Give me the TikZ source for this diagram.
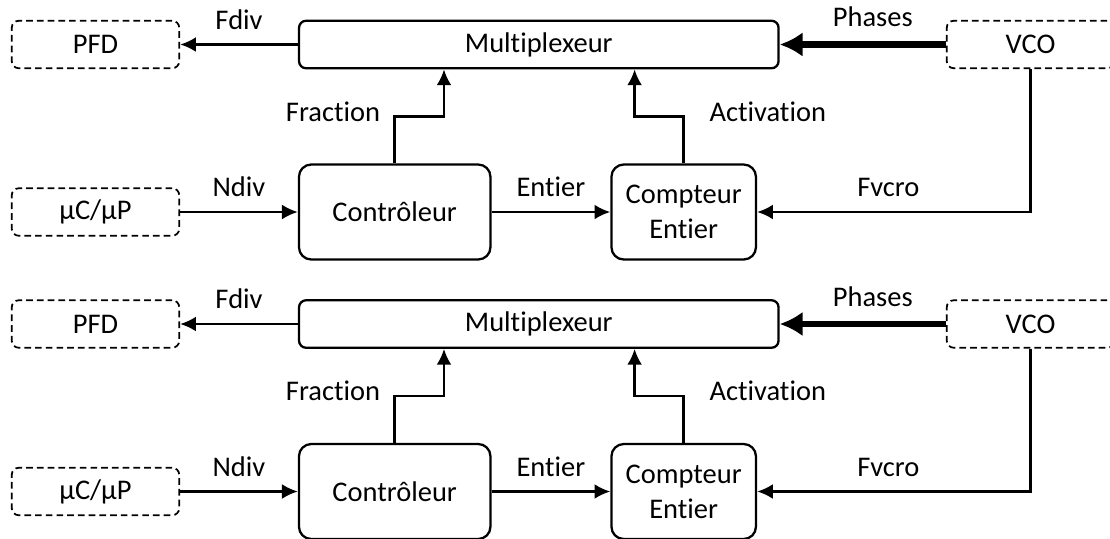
\documentclass[tikz,border=0pt]{standalone}
\usepackage{fontspec}
\setmainfont{Carlito}[Ligatures=NoCommon]
\usetikzlibrary{arrows.meta}

\begin{document}
\begin{tikzpicture}[x=1cm,y=1cm,>={Latex[length=9pt,width=8.5pt]},
font=\fontsize{16.2}{19.8}\selectfont,
blk/.style={draw,line width=1.3pt,rounded corners=7pt,align=center,minimum height=1.9cm},
ext/.style={draw,dash pattern=on 3.8pt off 2.3pt,line width=1pt,rounded corners=4pt,minimum width=3.35cm,minimum height=.95cm},
mux/.style={draw,line width=1.3pt,rounded corners=4pt,minimum width=9.59cm,minimum height=.95cm},
arr/.style={->,line width=1.4pt},
bus/.style={-{Latex[length=13pt,width=14pt]},line width=3.8pt},
lbl/.style={inner sep=2pt}]
\useasboundingbox (0,0) rectangle (22.2,-10.76);
% upper diagram
\node[ext] (p1) at (1.91,-.89) {PFD};
\node[mux] (m1) at (10.776,-.89) {Multiplexeur};
\node[ext] (v1) at (20.61,-.89) {VCO};
\node[ext] (n1) at (1.91,-4.24) {µC/µP};
\node[blk,minimum width=3.83cm] (c1) at (7.894,-4.24) {Contrôleur};
\node[blk,minimum width=2.89cm] (k1) at (13.674,-4.24) {Compteur\\Entier};
\coordinate (f1) at (8.88,-2.334);\coordinate (a1) at (12.692,-2.334);
\draw[arr] (m1.west)--node[lbl,above=6pt]{Fdiv}(p1.east);
\draw[bus] (v1.west)--node[lbl,above=6pt,pos=.44]{Phases}(m1.east);
\draw[arr] (n1.east)--node[lbl,above=6pt]{Ndiv}(c1.west);
\draw[arr] (c1.east)--node[lbl,above=6pt]{Entier}(k1.west);
\draw[arr] (v1.south)|-node[lbl,above=6pt,pos=.76]{Fvcro}(k1.east);
\draw[arr] (c1.north)--(c1.north|-f1)node[lbl,left=5.6pt,yshift=3pt]{Fraction}--(f1)--(f1|-m1.south);
\draw[arr] (k1.north)--(k1.north|-a1)node[lbl,right=12pt,yshift=3pt]{Activation}--(a1)--(a1|-m1.south);
% lower diagram
\node[ext] (p2) at (1.91,-6.48) {PFD};
\node[mux] (m2) at (10.776,-6.48) {Multiplexeur};
\node[ext] (v2) at (20.61,-6.48) {VCO};
\node[ext] (n2) at (1.91,-9.83) {µC/µP};
\node[blk,minimum width=3.83cm] (c2) at (7.894,-9.83) {Contrôleur};
\node[blk,minimum width=2.89cm] (k2) at (13.674,-9.83) {Compteur\\Entier};
\coordinate (f2) at (8.88,-7.924);\coordinate (a2) at (12.692,-7.924);
\draw[arr] (m2.west)--node[lbl,above=6pt]{Fdiv}(p2.east);
\draw[bus] (v2.west)--node[lbl,above=6pt,pos=.44]{Phases}(m2.east);
\draw[arr] (n2.east)--node[lbl,above=6pt]{Ndiv}(c2.west);
\draw[arr] (c2.east)--node[lbl,above=6pt]{Entier}(k2.west);
\draw[arr] (v2.south)|-node[lbl,above=6pt,pos=.76]{Fvcro}(k2.east);
\draw[arr] (c2.north)--(c2.north|-f2)node[lbl,left=5.6pt,yshift=3pt]{Fraction}--(f2)--(f2|-m2.south);
\draw[arr] (k2.north)--(k2.north|-a2)node[lbl,right=12pt,yshift=3pt]{Activation}--(a2)--(a2|-m2.south);
\end{tikzpicture}
\end{document}
